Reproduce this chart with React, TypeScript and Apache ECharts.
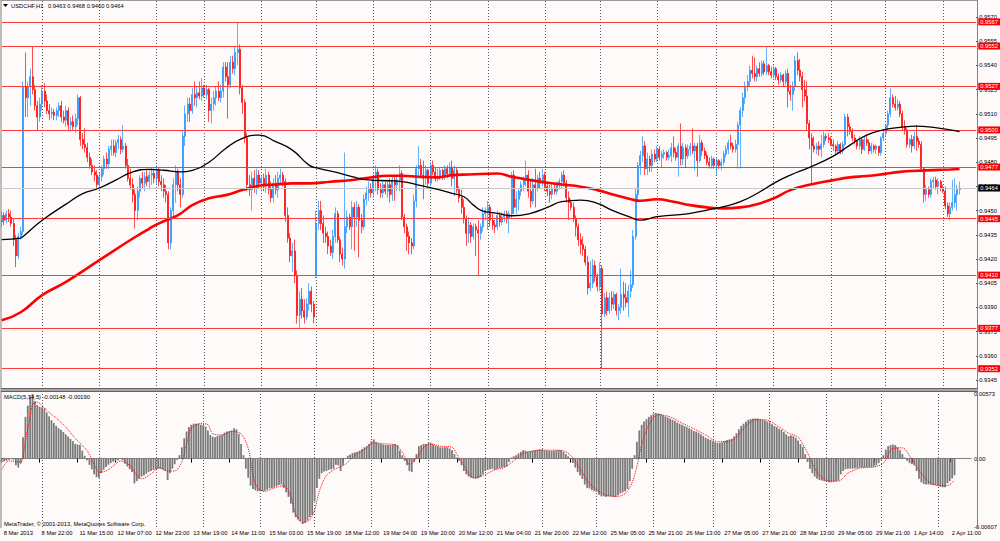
import React, { useEffect, useRef } from 'react';
import * as echarts from 'echarts';

// Candles: [open, high, low, close] in units of 0.0001
const WEEK_08MAR = [
  [9443,9450,9440,9447],[9447,9449,9441,9444],[9444,9450,9442,9448],[9448,9451,9443,9446],[9446,9450,9440,9442],
  [9442,9445,9428,9432],[9432,9435,9415,9422],[9422,9436,9420,9434],[9434,9440,9432,9437],[9437,9530,9435,9527],
  [9527,9548,9508,9520],[9520,9530,9508,9527],[9527,9538,9515,9533],[9533,9552,9522,9525],[9525,9528,9512,9515],
  [9515,9518,9500,9508],[9508,9520,9505,9516],
];
const WEEK_11MAR = [
  [9516,9528,9512,9524],[9524,9529,9514,9518],[9518,9522,9510,9512],[9512,9516,9506,9510],[9510,9514,9507,9511],
  [9511,9513,9506,9509],[9509,9514,9506,9512],[9512,9517,9508,9515],[9515,9518,9505,9508],[9508,9512,9504,9506],
  [9506,9515,9502,9512],[9512,9514,9500,9503],[9503,9508,9499,9505],[9505,9509,9500,9502],[9502,9510,9498,9507],
  [9507,9522,9503,9520],[9520,9521,9490,9494],[9494,9498,9488,9491],[9491,9501,9486,9489],[9489,9492,9480,9483],
  [9483,9486,9476,9478],[9478,9482,9472,9474],[9474,9478,9468,9472],[9472,9475,9464,9466],[9466,9474,9463,9471],
  [9471,9478,9468,9476],[9476,9484,9472,9482],[9482,9486,9476,9479],[9479,9490,9476,9488],[9488,9494,9484,9490],
  [9490,9494,9484,9486],[9486,9494,9483,9492],[9492,9497,9488,9494],[9494,9496,9485,9488],[9488,9503,9486,9490],
  [9490,9492,9476,9478],[9478,9482,9468,9470],[9470,9476,9463,9466],[9466,9470,9455,9460],[9460,9463,9439,9450],
  [9450,9465,9444,9462],[9462,9472,9458,9470],[9470,9474,9464,9467],[9467,9474,9462,9471],[9471,9475,9465,9468],
  [9468,9475,9463,9472],[9472,9477,9466,9473],[9473,9476,9467,9470],[9470,9478,9466,9475],[9475,9477,9465,9468],
  [9468,9472,9462,9466],[9466,9470,9458,9462],[9462,9466,9455,9460],[9460,9462,9426,9430],[9430,9452,9426,9450],
  [9450,9470,9446,9466],[9466,9478,9455,9474],[9474,9476,9462,9466],[9466,9470,9452,9460],[9460,9500,9458,9496],
  [9496,9515,9490,9510],[9510,9520,9505,9516],[9516,9520,9505,9512],[9512,9526,9510,9522],[9522,9530,9515,9520],
  [9520,9527,9514,9523],[9523,9530,9519,9521],[9521,9532,9518,9526],[9526,9528,9520,9522],[9522,9528,9519,9525],
  [9525,9526,9505,9512],[9512,9520,9504,9516],[9516,9524,9512,9520],[9520,9527,9515,9524],[9524,9530,9518,9520],
  [9520,9528,9517,9524],[9524,9542,9520,9539],[9539,9542,9530,9533],[9533,9542,9507,9528],[9528,9546,9526,9542],
  [9542,9546,9535,9538],[9538,9552,9534,9548],[9548,9567,9540,9550],[9550,9553,9522,9526],[9526,9528,9510,9517],
  [9517,9519,9492,9495],[9495,9498,9462,9466],[9466,9472,9459,9463],[9463,9474,9450,9470],[9470,9475,9461,9464],
  [9464,9476,9460,9472],[9472,9475,9464,9467],[9467,9472,9463,9470],[9470,9473,9462,9465],[9465,9476,9461,9472],
  [9472,9474,9460,9463],[9463,9468,9455,9458],[9458,9470,9455,9467],[9467,9472,9460,9463],[9463,9474,9458,9470],
  [9470,9476,9466,9472],[9472,9474,9465,9468],[9468,9470,9443,9447],[9447,9452,9430,9433],[9433,9436,9418,9422],
  [9422,9430,9412,9425],[9425,9432,9405,9410],[9410,9413,9380,9385],[9385,9400,9377,9395],[9395,9402,9383,9388],
  [9388,9395,9380,9384],[9384,9396,9382,9392],[9392,9405,9388,9400],[9400,9403,9387,9392],[9392,9394,9380,9384],
];
const WEEK_18MAR = [
  [9410,9450,9408,9442],[9442,9456,9438,9450],[9450,9456,9438,9442],[9442,9447,9430,9436],[9436,9440,9430,9434],
  [9434,9437,9423,9428],[9428,9432,9422,9424],[9424,9438,9420,9434],[9434,9452,9430,9448],[9448,9450,9430,9432],
  [9432,9434,9418,9423],[9423,9427,9416,9420],[9420,9486,9414,9440],[9440,9450,9436,9446],[9446,9448,9438,9440],
  [9440,9456,9426,9452],[9452,9455,9425,9446],[9446,9456,9440,9452],[9452,9454,9421,9444],[9444,9448,9436,9440],
  [9440,9460,9438,9457],[9457,9465,9453,9461],[9461,9468,9456,9464],[9464,9467,9458,9461],[9461,9474,9458,9470],
  [9470,9478,9462,9474],[9474,9476,9460,9463],[9463,9467,9458,9461],[9461,9468,9458,9466],[9466,9468,9460,9462],
  [9462,9468,9458,9466],[9466,9470,9455,9460],[9460,9472,9456,9469],[9469,9472,9456,9466],[9466,9472,9462,9469],
  [9469,9478,9462,9473],[9473,9475,9444,9446],[9446,9448,9436,9440],[9440,9442,9425,9434],[9434,9437,9423,9430],
  [9430,9433,9423,9428],[9428,9460,9426,9456],[9456,9478,9452,9476],[9476,9490,9470,9478],[9478,9482,9470,9472],
  [9472,9481,9457,9470],[9470,9478,9466,9475],[9475,9476,9465,9467],[9467,9480,9465,9478],[9478,9481,9472,9474],
  [9474,9477,9468,9470],[9470,9476,9468,9471],[9471,9477,9469,9475],[9475,9476,9469,9471],[9471,9478,9469,9476],
  [9476,9478,9470,9473],[9473,9480,9471,9477],[9477,9481,9465,9470],[9470,9478,9459,9475],[9475,9477,9461,9463],
  [9463,9465,9455,9458],[9458,9463,9448,9452],[9452,9457,9442,9445],[9445,9447,9428,9436],[9436,9446,9430,9441],
  [9441,9443,9430,9434],[9434,9442,9432,9440],[9440,9442,9422,9438],[9438,9444,9410,9436],[9436,9442,9432,9440],
  [9440,9452,9437,9448],[9448,9452,9444,9450],[9450,9456,9438,9452],[9452,9454,9440,9444],[9444,9448,9438,9441],
  [9441,9444,9436,9440],[9440,9450,9438,9447],[9447,9449,9440,9443],[9443,9449,9441,9446],[9446,9450,9443,9448],
  [9448,9450,9442,9445],[9445,9450,9436,9448],[9448,9474,9445,9472],[9472,9475,9448,9452],[9452,9462,9448,9457],
  [9457,9464,9450,9462],[9462,9468,9459,9466],[9466,9471,9462,9469],[9469,9481,9465,9472],[9472,9475,9458,9462],
  [9462,9468,9452,9456],[9456,9470,9454,9466],[9466,9476,9452,9464],[9464,9472,9462,9470],[9470,9474,9464,9467],
  [9467,9476,9465,9472],[9472,9474,9462,9465],[9465,9468,9459,9462],[9462,9466,9455,9460],[9460,9467,9457,9464],
  [9464,9466,9460,9462],[9462,9468,9460,9466],[9466,9470,9463,9468],[9468,9474,9464,9472],[9472,9475,9465,9467],
  [9467,9469,9455,9458],[9458,9462,9444,9455],[9455,9457,9450,9452],[9452,9455,9443,9445],[9445,9447,9434,9440],
  [9440,9442,9428,9432],[9432,9436,9423,9429],[9429,9434,9422,9426],[9426,9428,9416,9418],[9418,9422,9398,9402],
  [9402,9419,9400,9405],[9405,9420,9402,9416],[9416,9419,9406,9409],
];
const WEEK_25MAR = [
  [9409,9411,9400,9403],[9403,9418,9400,9414],[9414,9416,9352,9386],[9386,9399,9384,9396],[9396,9400,9385,9388],
  [9388,9399,9386,9396],[9396,9400,9388,9392],[9392,9400,9389,9398],[9398,9399,9385,9388],[9388,9392,9382,9390],
  [9390,9414,9386,9398],[9398,9406,9388,9396],[9396,9405,9390,9393],[9393,9404,9384,9400],[9400,9413,9396,9404],
  [9404,9438,9402,9434],[9434,9464,9432,9460],[9460,9480,9456,9478],[9478,9487,9472,9484],[9484,9496,9480,9490],
  [9490,9493,9472,9476],[9476,9486,9472,9482],[9482,9484,9474,9478],[9478,9488,9474,9485],[9485,9488,9480,9482],
  [9482,9490,9480,9488],[9488,9490,9481,9483],[9483,9487,9477,9485],[9485,9488,9482,9486],[9486,9487,9481,9483],
  [9483,9488,9481,9484],[9484,9492,9480,9489],[9489,9496,9483,9486],[9486,9489,9481,9483],[9483,9492,9471,9490],
  [9490,9504,9478,9482],[9482,9492,9478,9489],[9489,9491,9477,9484],[9484,9491,9482,9488],[9488,9492,9484,9490],
  [9490,9501,9485,9487],[9487,9492,9475,9490],[9490,9492,9471,9481],[9481,9497,9480,9492],[9492,9494,9484,9487],
  [9487,9489,9482,9484],[9484,9486,9478,9480],[9480,9483,9476,9478],[9478,9484,9476,9482],[9482,9483,9476,9478],
  [9478,9483,9472,9481],[9481,9482,9476,9478],[9478,9482,9475,9480],[9480,9487,9478,9485],[9485,9490,9483,9488],
  [9488,9494,9485,9492],[9492,9497,9488,9490],[9490,9492,9486,9488],[9488,9494,9486,9491],[9491,9505,9476,9503],
  [9503,9514,9476,9512],[9512,9523,9508,9520],[9520,9530,9516,9527],[9527,9534,9524,9530],[9530,9540,9527,9537],
  [9537,9546,9532,9535],[9535,9545,9530,9533],[9533,9540,9530,9538],[9538,9542,9533,9535],[9535,9543,9533,9541],
  [9541,9543,9534,9536],[9536,9552,9534,9540],[9540,9541,9534,9536],[9536,9539,9532,9534],[9534,9540,9532,9538],
  [9538,9539,9531,9533],[9533,9535,9528,9531],[9531,9536,9529,9534],[9534,9535,9527,9530],[9530,9537,9528,9535],
  [9535,9538,9514,9524],[9524,9528,9518,9522],[9522,9530,9512,9527],[9527,9546,9524,9543],[9543,9548,9534,9537],
  [9537,9544,9530,9533],[9533,9536,9514,9525],[9525,9531,9518,9521],[9521,9530,9500,9504],[9504,9506,9488,9495],
  [9495,9498,9467,9490],[9490,9496,9486,9488],[9488,9492,9485,9490],[9490,9493,9484,9488],[9488,9497,9483,9491],
  [9491,9499,9489,9496],[9496,9498,9493,9495],[9495,9498,9492,9494],[9494,9496,9490,9491],[9491,9494,9487,9490],
  [9490,9491,9484,9487],[9487,9493,9485,9491],[9491,9492,9485,9487],[9487,9493,9485,9491],[9491,9510,9490,9508],
  [9508,9510,9496,9502],[9502,9504,9497,9499],[9499,9501,9493,9495],[9495,9497,9491,9493],[9493,9494,9488,9490],
  [9490,9496,9488,9494],[9494,9495,9485,9488],[9488,9496,9487,9494],[9494,9497,9490,9492],[9492,9494,9485,9487],
  [9487,9492,9485,9490],[9490,9491,9486,9488],[9488,9491,9485,9490],[9490,9490,9484,9486],[9486,9496,9484,9495],
  [9495,9500,9493,9498],
];
const WEEK_01APR = [
  [9498,9504,9496,9503],[9503,9512,9500,9510],[9510,9526,9508,9520],[9520,9522,9514,9516],[9516,9521,9512,9514],
  [9514,9519,9512,9516],[9516,9518,9508,9510],[9510,9512,9500,9502],[9502,9506,9497,9500],[9500,9501,9489,9491],
  [9491,9495,9489,9494],[9494,9497,9486,9490],[9490,9499,9488,9496],[9496,9503,9487,9493],[9493,9495,9489,9491],
  [9491,9493,9474,9476],[9476,9477,9455,9460],[9460,9466,9456,9463],[9463,9465,9458,9460],[9460,9470,9458,9468],
  [9468,9471,9464,9469],[9469,9471,9463,9465],[9465,9470,9460,9468],[9468,9469,9462,9464],[9464,9466,9461,9462],
  [9462,9465,9451,9453],[9453,9455,9446,9448],[9448,9455,9444,9452],[9452,9469,9450,9455],[9455,9470,9452,9460],
  [9460,9466,9450,9463],[9463,9468,9460,9464],
];

// Moving averages: [bar index, value in 0.0001]
const MA_BLACK = [
  [0,9432],[8,9433],[9,9434],[17,9444],[27,9454],[34,9460.5],[41,9464],[48,9469],[55,9474],[62,9475.5],[68,9475],
  [75,9474],[80,9475],[87,9480],[94,9488.5],[101,9494.8],[108,9496.8],[115,9492.7],[122,9487.5],[129,9478.2],
  [133,9476.2],[141,9473.5],[147,9471],[154,9469],[162,9468.5],[168,9468],[175,9465.8],[183,9463.1],[189,9460.7],
  [194,9458.6],[198,9453.4],[202,9449.7],[208,9448.3],[214,9446.8],[222,9448.3],[229,9452],[235,9455.5],
  [243,9456.5],[250,9454.5],[256,9450.3],[264,9445.8],[268,9444.1],[275,9446.2],[282,9447.2],[289,9448.3],
  [296,9450.3],[303,9452.4],[310,9455.5],[317,9460.6],[324,9466.9],[331,9472],[339,9476.8],[349,9483.8],
  [356,9490.6],[363,9496.8],[370,9500],[377,9501.6],[384,9502.4],[391,9501.6],[398,9500],[402,9499],
];
const MA_RED = [
  [0,9382],[8,9387],[17,9397.6],[27,9405.8],[41,9419.3],[55,9432.7],[62,9438.9],[66,9442.1],[74,9447.2],
  [80,9453.4],[87,9457.6],[94,9459.6],[101,9462.7],[108,9465.4],[115,9466.2],[122,9466.9],[129,9466.9],
  [138,9467.9],[147,9469],[154,9470.4],[162,9471.6],[168,9471.6],[175,9471],[183,9470.6],[189,9472],[196,9472.4],
  [208,9473],[214,9471],[222,9468.9],[229,9467.3],[235,9466.2],[243,9464.8],[250,9462.7],[256,9460.2],
  [264,9457.1],[268,9456.1],[275,9457],[282,9455.5],[289,9453.4],[296,9452],[303,9451.4],[310,9452],[317,9454],
  [324,9457.6],[331,9462.7],[339,9466],[349,9468.9],[356,9470.6],[363,9471.4],[370,9472.6],[377,9474],
  [384,9474.7],[391,9475.1],[398,9475.5],[402,9475.8],
];

// MACD(5,34,5) main histogram per bar, in units of 0.00001
const MACD_MAIN = [
  -30,-25,-20,-10,5,-10,-60,-80,-45,190,
  370,470,550,573,510,475,460,455,445,410,
  375,340,315,290,270,255,235,215,195,175,
  155,130,125,120,70,25,-15,-55,-95,-140,
  -165,-170,-130,-100,-75,-55,-40,-25,-20,-15,
  0,-15,-45,-70,-95,-120,-220,-200,-180,-160,
  -150,-135,-120,-110,-100,-95,-90,-90,-95,-110,
  -190,-130,-90,-50,-10,30,100,180,240,280,
  300,310,310,310,300,295,285,250,210,195,
  190,200,205,210,230,240,245,250,270,260,
  220,130,30,-90,-170,-240,-270,-280,-290,-290,
  -290,-285,-275,-265,-260,-255,-245,-235,-230,-260,
  -300,-340,-400,-480,-520,-540,-555,-580,-570,-550,
  -520,-500,-380,-260,-180,-130,-115,-110,-100,-95,
  -90,-55,-60,-110,-60,0,25,35,50,55,
  60,70,85,100,110,130,155,170,145,135,
  130,125,120,120,120,125,130,120,70,30,
  -20,-60,-110,-120,-30,40,110,120,130,130,
  135,140,125,115,110,100,100,100,100,90,
  75,40,10,-20,-60,-110,-140,-160,-170,-175,
  -180,-175,-165,-140,-110,-100,-95,-90,-100,-90,
  -85,-80,-75,-70,-30,10,20,30,45,60,
  75,70,60,65,70,75,78,82,80,75,
  70,70,68,70,72,75,74,60,40,20,
  -5,-40,-80,-120,-150,-180,-230,-260,-265,-280,
  -290,-295,-320,-335,-335,-340,-335,-335,-340,-340,
  -325,-310,-300,-290,-270,-200,-90,30,150,250,
  300,330,350,370,385,400,405,400,395,385,
  375,365,355,345,335,320,310,300,290,280,
  270,260,245,240,230,215,200,185,175,165,
  155,145,140,140,145,155,165,170,175,195,
  225,260,290,310,330,345,350,355,355,355,
  350,345,340,330,320,305,290,280,265,255,
  235,215,200,205,200,185,160,130,105,40,
  -30,-90,-130,-160,-180,-190,-195,-200,-205,-210,
  -210,-205,-200,-195,-140,-110,-95,-90,-90,-90,
  -85,-85,-80,-80,-80,-75,-75,-75,-70,-60,
  -40,-10,30,80,110,120,125,120,100,75,
  40,10,-20,-40,-50,-60,-110,-180,-210,-225,
  -230,-230,-230,-235,-235,-240,-250,-255,-255,-220,
  -200,-175,-148,
];
// MACD signal line: [bar index, value in 0.00001]
const MACD_SIGNAL = [
  [0,-100],[3,-20],[8,-30],[10,160],[12,370],[13,480],[15,500],[17,470],[20,410],[23,360],[27,280],[31,180],
  [36,70],[39,-50],[41,-120],[44,-110],[48,-50],[50,-20],[54,-60],[57,-150],[59,-180],[64,-120],[66,-80],
  [70,-110],[73,-110],[76,-30],[78,130],[80,270],[84,310],[87,300],[89,220],[93,210],[97,240],[101,220],
  [104,90],[106,-140],[108,-260],[111,-290],[115,-260],[119,-240],[122,-340],[124,-490],[127,-570],[130,-540],
  [132,-460],[134,-290],[137,-150],[141,-90],[145,-50],[149,30],[153,80],[157,140],[162,130],[166,120],
  [169,60],[172,-50],[175,0],[178,100],[181,130],[185,110],[190,100],[192,40],[195,-60],[199,-170],[204,-140],
  [208,-100],[212,-80],[216,-20],[220,45],[225,70],[230,75],[236,72],[240,30],[244,-90],[248,-220],[252,-290],
  [256,-330],[260,-335],[264,-290],[267,-150],[270,120],[273,300],[277,390],[282,370],[287,315],[292,265],
  [297,210],[302,150],[306,150],[310,190],[314,290],[318,345],[322,345],[327,295],[332,225],[336,190],
  [340,50],[344,-120],[348,-195],[353,-200],[357,-130],[362,-85],[368,-75],[372,-40],[376,90],[380,95],
  [384,-10],[388,-130],[392,-220],[396,-240],[399,-240],[402,-190],
];

const DATE_LABELS = [
  '8 Mar 2013','8 Mar 22:00','11 Mar 15:00','12 Mar 07:00','12 Mar 23:00','13 Mar 19:00','14 Mar 11:00',
  '15 Mar 03:00','15 Mar 19:00','18 Mar 12:00','19 Mar 04:00','19 Mar 20:00','20 Mar 12:00','21 Mar 04:00',
  '21 Mar 20:00','22 Mar 12:00','25 Mar 05:00','25 Mar 21:00','26 Mar 13:00','27 Mar 05:00','27 Mar 21:00',
  '28 Mar 13:00','29 Mar 05:00','29 Mar 21:00','1 Apr 14:00','2 Apr 11:00',
];
const DAY_START_BARS = [17,41,65,85,109,132,156,180,204,228,251,275,300,324,348,371,395];
const PRICE_TICKS = [0.9345,0.9360,0.9375,0.9390,0.9405,0.9420,0.9435,0.9450,0.9465,0.9480,0.9495,0.9510,0.9525,0.9540,0.9555,0.9570];
const LEVELS = [0.9567,0.9552,0.9527,0.9500,0.9477,0.9445,0.9410,0.9377,0.9352];
const MACD_TICKS = [-0.00607, 0, 0.00573];
const SYMBOL = 'USDCHF,H1';
const SLOTS = 410;

const FONT = '"Liberation Sans", Arial, sans-serif';
const FS = 5.8;

export default function App() {
  const ref = useRef<HTMLDivElement>(null);
  useEffect(() => {
    if (!ref.current) return;
    const chart = echarts.init(ref.current, undefined, { renderer: 'svg' });
    const candles = [...WEEK_08MAR, ...WEEK_11MAR, ...WEEK_18MAR, ...WEEK_25MAR, ...WEEK_01APR];
    const last = candles[candles.length - 1];
    const lastClose = last[3] / 1e4;
    const cats = Array.from({ length: SLOTS }, (_, i) => String(i));
    const daySet = new Set(DAY_START_BARS);
    const split = {
      show: true,
      interval: (i: number) => daySet.has(i),
      lineStyle: { color: '#5a5a5a', type: [1, 2], width: 1 },
    };
    const f4 = (v: number) => (v / 1e4).toFixed(4);
    const macdLast = MACD_MAIN[MACD_MAIN.length - 1] / 1e5;
    const sigLast = MACD_SIGNAL[MACD_SIGNAL.length - 1][1] / 1e5;

    const levelLine = (v: number, lineColor: string, bg: string) => ({
      yAxis: v,
      lineStyle: { color: lineColor, width: 1, type: 'solid' },
      label: {
        show: true, position: 'end', distance: 2, formatter: v.toFixed(4),
        color: '#fff', backgroundColor: bg, padding: [1, 2, 0, 2], fontSize: FS, fontFamily: FONT,
      },
    });

    const option: any = {
      animation: false,
      backgroundColor: '#FFFAFA',
      textStyle: { fontFamily: FONT },
      grid: [
        { left: 1.7, right: 23, top: 1, height: 388 },
        { left: 1.7, right: 23, top: 394, height: 133 },
      ],
      xAxis: [
        {
          type: 'category', gridIndex: 0, data: cats, boundaryGap: false,
          axisLine: { show: false }, axisTick: { show: false }, axisLabel: { show: false },
          splitLine: split,
        },
        {
          type: 'category', gridIndex: 1, data: cats, boundaryGap: false,
          axisLine: { show: true, lineStyle: { color: '#808080', width: 1 } },
          axisTick: { show: true, interval: (i: number) => i % 16 === 0, length: 4, lineStyle: { color: '#000' } },
          axisLabel: {
            show: true, interval: (i: number) => i % 16 === 0,
            formatter: (_v: string, i: number) => DATE_LABELS[i / 16] ?? '',
            align: 'left', fontSize: FS, color: '#000', margin: 3, padding: [0, 0, 0, 2], fontFamily: FONT,
          },
          splitLine: split,
        },
      ],
      yAxis: [
        {
          type: 'value', gridIndex: 0, position: 'right', min: 0.933942, max: 0.957992,
          splitLine: { show: false }, axisLine: { show: false },
          axisTick: { show: true, length: 2, customValues: PRICE_TICKS, lineStyle: { color: '#000' } },
          axisLabel: { customValues: PRICE_TICKS, formatter: (v: number) => v.toFixed(4), fontSize: FS, color: '#000', margin: 3, fontFamily: FONT },
        },
        {
          type: 'value', gridIndex: 1, position: 'right', min: -0.00607, max: 0.00573,
          splitLine: { show: false }, axisLine: { show: false },
          axisTick: { show: false },
          axisLabel: {
            customValues: MACD_TICKS,
            formatter: (v: number) => (Math.abs(v) < 1e-9 ? '0.00' : v.toFixed(5)),
            fontSize: FS, color: '#000', margin: 3, fontFamily: FONT,
          },
        },
      ],
      series: [
        {
          type: 'line', xAxisIndex: 0, yAxisIndex: 0, symbol: 'none', z: 2, silent: true,
          data: [],
          markLine: {
            silent: true, symbol: ['none', 'none'], animation: false, precision: 6,
            data: [
              ...LEVELS.map((v) => levelLine(v, '#FF3a3a', '#FF0000')),
              levelLine(lastClose, '#C8C8C8', '#000000'),
            ],
          },
        },
        {
          type: 'candlestick', xAxisIndex: 0, yAxisIndex: 0,
          data: candles.map(([o, h, l, c]) => [o / 1e4, c / 1e4, l / 1e4, h / 1e4]),
          barWidth: 1.5,
          itemStyle: { color: '#1E90FF', color0: '#FF0000', borderColor: '#1E90FF', borderColor0: '#FF0000', borderColorDoji: '#1E90FF', borderWidth: 0.7 },
          z: 3,
        },
        {
          type: 'line', xAxisIndex: 0, yAxisIndex: 0, symbol: 'none', smooth: 0.5, z: 4,
          data: MA_RED.map(([i, v]) => [i, v / 1e4]),
          lineStyle: { color: '#FF0000', width: 2.6 },
        },
        {
          type: 'line', xAxisIndex: 0, yAxisIndex: 0, symbol: 'none', smooth: 0.5, z: 5,
          data: MA_BLACK.map(([i, v]) => [i, v / 1e4]),
          lineStyle: { color: '#000000', width: 1.3 },
        },
        {
          type: 'bar', xAxisIndex: 1, yAxisIndex: 1, barWidth: 1.8,
          data: MACD_MAIN.map((v) => v / 1e5),
          itemStyle: { color: '#7a7a7a' },
        },
        {
          type: 'line', xAxisIndex: 1, yAxisIndex: 1, symbol: 'none', smooth: 0.3, z: 5,
          data: MACD_SIGNAL.map(([i, v]) => [i, v / 1e5]),
          lineStyle: { color: '#FF0000', width: 1, type: 'dotted' },
        },
      ],
      graphic: [
        { type: 'line', z: 50, shape: { x1: 1, y1: 0.5, x2: 977.5, y2: 0.5 }, style: { stroke: '#9a9a9a', lineWidth: 1 } },
        { type: 'line', z: 50, shape: { x1: 1, y1: 0, x2: 1, y2: 528 }, style: { stroke: '#808080', lineWidth: 1 } },
        { type: 'line', z: 50, shape: { x1: 977.5, y1: 0, x2: 977.5, y2: 528 }, style: { stroke: '#808080', lineWidth: 1 } },
        { type: 'rect', z: 50, shape: { x: 1, y: 388.5, width: 976.5, height: 3 }, style: { fill: '#a8a8a8' } },
        { type: 'line', z: 51, shape: { x1: 1, y1: 388.5, x2: 977.5, y2: 388.5 }, style: { stroke: '#606060', lineWidth: 1 } },
        { type: 'line', z: 51, shape: { x1: 1, y1: 391.5, x2: 977.5, y2: 391.5 }, style: { stroke: '#606060', lineWidth: 1 } },
        { type: 'polygon', z: 60, shape: { points: [[3, 4], [8, 4], [5.5, 7]] }, style: { fill: '#000' } },
        { type: 'text', z: 60, x: 11, y: 6, style: { text: SYMBOL, fill: '#000', font: `${FS}px ${FONT}`, verticalAlign: 'middle' } },
        { type: 'text', z: 60, x: 48, y: 6, style: { text: `${f4(last[0])} ${f4(last[1])} ${f4(last[2])} ${f4(last[3])}`, fill: '#000', font: `${FS}px ${FONT}`, verticalAlign: 'middle' } },
        { type: 'text', z: 60, x: 4, y: 397, style: { text: `MACD(5,34,5) ${macdLast.toFixed(5)} ${sigLast.toFixed(5)}`, fill: '#000', font: `${FS}px ${FONT}`, verticalAlign: 'middle' } },
        { type: 'text', z: 60, x: 4, y: 524, style: { text: 'MetaTrader, © 2001-2013, MetaQuotes Software Corp.', fill: '#000', font: `${FS}px ${FONT}`, verticalAlign: 'middle' } },
      ],
    };
    chart.setOption(option);
    return () => chart.dispose();
  }, []);
  return <div ref={ref} style={{ position: 'fixed', left: 0, top: 0, width: 1000, height: 541 }} />;
}
